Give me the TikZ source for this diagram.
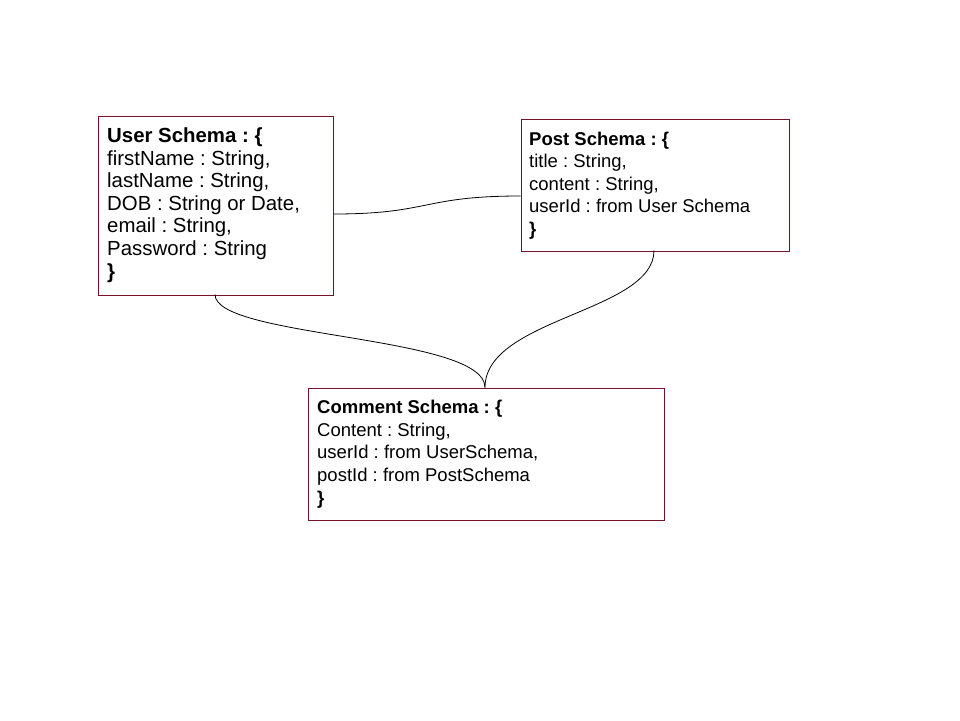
\documentclass[tikz,border=0pt]{standalone}
\usepackage{fontspec}
\setmainfont{Liberation Sans}
\frenchspacing
\definecolor{boxred}{RGB}{120,18,38}
\begin{document}
\begin{tikzpicture}[x=1pt,y=-1pt,
  schemabox/.style={draw=boxred,line width=1.3pt,fill=none,inner sep=0pt,anchor=north west},
  bigtext/.style={anchor=base west,align=left,inner sep=0pt,font=\fontsize{20.4}{22.6}\selectfont},
  smalltext/.style={anchor=base west,align=left,inner sep=0pt,font=\fontsize{18.5}{22.6}\selectfont},
  link/.style={draw=black,line width=0.8pt}]
\useasboundingbox (0,0) rectangle (960,720);
\node[schemabox,minimum width=235pt,minimum height=179pt] (user) at (97.5,115.5) {};
\node[schemabox,minimum width=268pt,minimum height=132pt] (post) at (520.5,118.5) {};
\node[schemabox,minimum width=356pt,minimum height=132pt] (comment) at (307.5,387.5) {};
\node[bigtext] (usertext) at (107,278) {\textbf{User Schema : \{}\\firstName : String,\\lastName : String,\\DOB : String or Date,\\email : String,\\Password : String\\\textbf{\}}};
\node[smalltext] (posttext) at (529,235.5) {\textbf{Post Schema : \{}\\title : String,\\content : String,\\userId : from User Schema\\\textbf{\}}};
\node[smalltext] (commenttext) at (317,504) {\textbf{Comment Schema : \{}\\Content : String,\\userId : from UserSchema,\\postId : from PostSchema\\\textbf{\}}};
\coordinate (userR) at (user.east |- 0,214);
\coordinate (postL) at (post.west |- 0,196);
\coordinate (userB) at (215,294.5);
\coordinate (postB) at (654,250.5);
\coordinate (commT) at (485,387.5);
\draw[link] (userR) .. controls (430,214) and (422,196) .. (postL);
\draw[link] (userB) .. controls (215,338) and (485,335) .. (commT);
\draw[link] (postB) .. controls (654,312) and (485,318) .. (commT);
\end{tikzpicture}
\end{document}
